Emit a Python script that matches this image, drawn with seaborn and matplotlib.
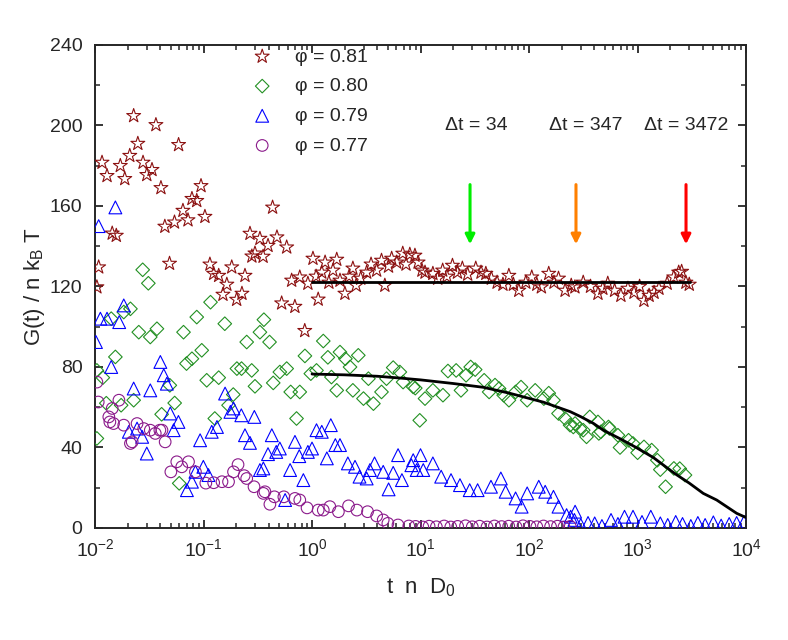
import matplotlib
matplotlib.use("Agg")
import matplotlib.pyplot as plt
from matplotlib.ticker import MultipleLocator
import seaborn as sns

# phi = 0.81 (stars)
x81 = [0.0104, 0.0108, 0.0116, 0.0129, 0.0144, 0.0157, 0.0171, 0.0188, 0.0209, 0.0227,
       0.0248, 0.0277, 0.030, 0.0335, 0.0364, 0.0405, 0.044, 0.0486, 0.054, 0.0589,
       0.0646, 0.0719, 0.0782, 0.0866, 0.0948, 0.103, 0.1145, 0.124, 0.138, 0.151,
       0.164, 0.182, 0.202, 0.226, 0.241, 0.268, 0.279, 0.298, 0.331, 0.354,
       0.393, 0.433, 0.475, 0.525, 0.584, 0.649, 0.695, 0.771, 0.857, 0.916,
       1.02, 1.09, 1.14, 1.23, 1.32, 1.43, 1.56, 1.69, 1.81, 2.01,
       2.2, 2.38, 2.55, 2.81, 3.19, 3.5, 3.94, 4.37, 4.69, 5.07,
       5.42, 6.03, 6.86, 7.35, 7.97, 8.88, 9.5, 10.3, 11.0, 13.0,
       14.4, 16.0, 17.5, 19.7, 21.9, 24.3, 27.2, 32.3, 36.1, 40.0,
       45.0, 50.8, 57.5, 65.2, 71.8, 80.5, 93.4, 106, 118, 130,
       152, 170, 187, 215, 245, 265, 316, 369, 432, 479,
       532, 615, 703, 816, 929, 1045, 1146, 1279, 1421, 1577,
       1876, 2157, 2397, 2550, 2793, 3000]
y81 = [119.7, 129.6, 181.6, 175, 146.4, 145.3, 180, 173.5, 185, 204.8,
       191, 181.6, 175.5, 178, 200.3, 169, 149.8, 131.4, 151.9, 190.4,
       157.7, 153, 163.6, 162.6, 170, 154.7, 131, 126.4, 125.4, 116,
       121, 129.6, 113.5, 116.5, 125.4, 146.3, 135, 136.5, 143.8, 134.9,
       140.3, 159.3, 144.5, 111.7, 139.5, 123, 110, 124.6, 98, 121.5,
       133.9, 125, 113.6, 127, 132, 122, 128, 133.4, 123, 116.5,
       125, 129, 120.5, 124, 127, 131, 128, 132.9, 120.5, 130,
       133.9, 132, 136.4, 131, 135.9, 135.4, 132, 128, 127, 126.4,
       124, 128, 125, 130.4, 127, 129, 126, 129, 127, 126.4,
       124, 122, 121, 125.4, 121, 118, 122, 124.6, 121, 119.7,
       126.4, 122, 124, 118, 120.5, 119.7, 122, 120, 116.5, 119,
       121.5, 118, 115.5, 119, 117, 120, 113, 115.5, 117, 119,
       121.5, 124.6, 127, 127.4, 122, 121]

# phi = 0.80 (diamonds)
x80 = [0.0104, 0.0104, 0.0118, 0.0127, 0.0141, 0.0154, 0.0174, 0.0184, 0.0212, 0.0227,
       0.0253, 0.0275, 0.031, 0.0323, 0.0372, 0.0411, 0.0489, 0.0542, 0.0597, 0.0654,
       0.0697, 0.0782, 0.0866, 0.0963, 0.107, 0.116, 0.127, 0.138, 0.157, 0.17,
       0.188, 0.203, 0.224, 0.25, 0.278, 0.298, 0.331, 0.36, 0.406, 0.439,
       0.505, 0.584, 0.636, 0.72, 0.771, 0.86, 0.975, 1.1, 1.27, 1.4,
       1.51, 1.69, 1.81, 2.03, 2.24, 2.38, 2.67, 2.98, 3.31, 3.68,
       4.37, 4.86, 5.6, 6.45, 6.91, 8.56, 8.95, 9.84, 11.0, 13.0,
       16.1, 17.9, 21.3, 23.6, 26.3, 29.0, 31.9, 38.6, 42.9, 48.6,
       53.0, 58.4, 65.3, 75.2, 84.4, 96.2, 114, 137, 152, 168,
       187, 215, 239, 256, 266, 294, 316, 339, 363, 432,
       440, 460, 540, 552, 660, 690, 827, 909, 1002, 1147,
       1350, 1522, 1623, 1814, 2164, 2450, 2740]
y80 = [44.5, 78.3, 74.7, 62, 104, 85, 61, 107.3, 108.9, 63.5,
       97.3, 128.3, 121.6, 94.9, 99, 56.5, 70.9, 62.1, 22.2, 97.3,
       81.7, 84.1, 104.8, 88.3, 73.4, 112.2, 54.4, 74.7, 101.5, 61,
       66.3, 79.2, 79.2, 92.4, 78.3, 70.4, 97.3, 103.5, 92.4, 72.1,
       77.5, 79.2, 67.6, 54.4, 67.6, 85.5, 76.7, 78.3, 92.9, 84.8,
       75, 68.4, 87.4, 84.1, 80, 68.4, 85.8, 64.3, 74.2, 61.8,
       67.6, 74.2, 79.7, 77.5, 72.5, 70.1, 69.5, 53.5, 64.3, 68.4,
       66, 78, 78.3, 68.4, 75.9, 80, 78.7, 73.4, 67.6, 71,
       69.3, 66, 63.5, 67.6, 70, 63.5, 68.4, 64.3, 67, 63.5,
       56.9, 54.4, 51.1, 50.2, 51.9, 49.4, 48.6, 45.3, 55.2, 52.7,
       47, 47.8, 50.2, 49.4, 46.1, 40, 43.6, 42, 37.4, 40.3,
       38.7, 33.7, 29, 20.5, 29.6, 29.5, 26.3]

# phi = 0.79 (triangles)
x79 = [0.0102, 0.0108, 0.0112, 0.0129, 0.0141, 0.0154, 0.0167, 0.0184, 0.0205, 0.0227,
       0.0244, 0.0272, 0.030, 0.0323, 0.04, 0.043, 0.0459, 0.0494, 0.053, 0.0587,
       0.0703, 0.0782, 0.0842, 0.093, 0.0996, 0.111, 0.119, 0.133, 0.158, 0.177,
       0.189, 0.223, 0.241, 0.268, 0.294, 0.331, 0.356, 0.393, 0.426, 0.468,
       0.505, 0.565, 0.628, 0.696, 0.763, 0.832, 0.916, 1.0, 1.1, 1.23,
       1.37, 1.49, 1.64, 1.81, 2.14, 2.49, 2.74, 3.19, 3.42, 3.77,
       4.53, 5.08, 5.6, 6.21, 6.74, 8.24, 8.56, 9.22, 10.0, 10.6,
       13.0, 15.5, 19.1, 23.1, 28.4, 33.6, 44.6, 55, 60.9, 75.2,
       85.5, 96.2, 123, 141, 168, 187, 222, 242, 262, 266,
       300, 350, 403, 470, 570, 660, 759, 909, 1100, 1326,
       1623, 1900, 2250, 2600, 3100, 3600, 4200, 5000, 5900, 7000,
       8200, 9600]
y79 = [92.4, 150, 104, 104, 80, 159.3, 102.3, 110.6, 47.8, 69.3,
       49.4, 45.3, 37, 68.4, 82.5, 75.9, 71.7, 56.9, 48.6, 52.7,
       18.8, 23, 27.9, 43.6, 30.4, 26.3, 47.8, 50.2, 66.8, 57.7,
       59.4, 56, 46.1, 42.3, 55.2, 28.8, 29.6, 36.7, 46.1, 37.8,
       39.5, 13.9, 28.8, 42.8, 35.7, 23.8, 37.8, 39.5, 48.6, 47.8,
       34.6, 51.1, 41.2, 41.2, 32.1, 30.4, 25.5, 24.6, 28.8, 32.1,
       27.9, 19.2, 27.4, 36.2, 23.8, 31.2, 33.7, 28.8, 36.2, 28.8,
       32.1, 25.5, 23.8, 21.3, 18.8, 18.8, 20.5, 24.6, 18, 14.7,
       10.6, 17.2, 20.5, 18, 15.5, 10.6, 6.4, 5.6, 4, 8.1,
       1.5, 2.5, 2.3, 1, 4, 2, 5.6, 5.6, 3, 5.6,
       2.3, 1.5, 3, 2, 1, 2.5, 1.5, 2.8, 1.2, 2,
       2.5, 3]

# phi = 0.77 (circles)
x77 = [0.0104, 0.0107, 0.0134, 0.0137, 0.0144, 0.0148, 0.0166, 0.0184, 0.0212, 0.022,
       0.0244, 0.0281, 0.0323, 0.0359, 0.0396, 0.0414, 0.0443, 0.050, 0.0567, 0.063,
       0.0727, 0.0842, 0.105, 0.124, 0.148, 0.17, 0.189, 0.208, 0.237, 0.25,
       0.292, 0.356, 0.368, 0.409, 0.45, 0.55, 0.696, 0.771, 0.9, 1.14,
       1.27, 1.46, 1.75, 2.17, 2.59, 3.25, 3.94, 4.53, 5.0, 6.2,
       7.8, 9.0, 10.5, 12.0, 14.0, 16.5, 19.0, 22.0, 26.0, 30.0,
       35.0, 41.0, 48.0, 56.0, 65.0, 76.0, 88.0, 102, 118, 136,
       158, 183, 210, 240]
y77 = [72.5, 62.6, 55.2, 52.7, 59.4, 51.9, 63.5, 51.1, 42, 42.8,
       51.9, 49.4, 48.6, 47, 48.6, 48.6, 42.8, 27.9, 32.9, 30.4,
       32.9, 27.9, 22.3, 22.5, 23, 23, 27.9, 31.5, 26, 24.6,
       20.5, 17.2, 18, 11.8, 15.5, 15.5, 14.7, 13.9, 10, 8.9,
       8.9, 10.6, 8.1, 11, 8.9, 8.1, 6, 4, 2.3, 1.5,
       1.0, 0.8, 0.5, 0.9, 0.6, 1.0, 0.5, 0.8, 1.1, 0.6,
       0.9, 0.5, 1.0, 0.7, 0.9, 0.5, 1.1, 0.8, 0.6, 1.0,
       0.7, 0.9, 0.5, 0.8]

# fits
flat_x = [1.0, 3050]
flat_y = [122, 122]
curve_x = [1.0, 2.0, 4.0, 6.5, 10, 20, 38, 67, 136, 240, 300, 392, 484, 700,
           950, 1400, 2090, 2300, 3000, 4036, 5370, 8200, 10000]
curve_y = [76.5, 76.1, 75.4, 74.5, 73.6, 71.8, 69.9, 66.9, 62.5, 57.8, 55.3, 52, 48.6, 44.2,
           40.3, 35, 28, 26.4, 22.3, 17.2, 13.9, 7.3, 5.2]

# arrows
arrow_x = [28.6, 271, 2800]
arrow_colors = ["#00ee00", "#ff8000", "#ff0000"]
dt_labels = ["\u0394t = 34", "\u0394t = 347", "\u0394t = 3472"]
dt_x = [32.8, 335, 2830]

sns.set_style("ticks")
plt.rcParams["font.family"] = ["Liberation Sans", "DejaVu Sans"]
plt.rcParams["mathtext.default"] = "regular"

fig = plt.figure(figsize=(7.88, 6.4), dpi=100)
ax = fig.add_axes([0.1206, 0.175, 0.8261, 0.7547])

series = [
    (x81, y81, "*", 110, "#8b1010", "\u03c6 = 0.81"),
    (x80, y80, "D", 48, "#229022", "\u03c6 = 0.80"),
    (x79, y79, "^", 85, "#0000ff", "\u03c6 = 0.79"),
    (x77, y77, "o", 70, "#8b1a8b", "\u03c6 = 0.77"),
]
for xs, ys, mk, sz, col, lab in series:
    sns.scatterplot(x=xs, y=ys, marker=mk, s=sz, facecolor="none", edgecolor=col,
                    linewidth=0.8, label=lab, ax=ax, zorder=3)

sns.lineplot(x=flat_x, y=flat_y, color="black", lw=2, estimator=None, ax=ax, zorder=4)
sns.lineplot(x=curve_x, y=curve_y, color="black", lw=2, estimator=None, sort=False,
             ax=ax, zorder=4)

for xa, c in zip(arrow_x, arrow_colors):
    ax.annotate("", xy=(xa, 139.6), xytext=(xa, 172),
                arrowprops=dict(arrowstyle="-|>", color=c, lw=2.2, mutation_scale=14))
for xt, t in zip(dt_x, dt_labels):
    ax.text(xt, 200, t, ha="center", va="center", fontsize=14)

ax.set_xscale("log")
ax.set_xlim(1e-2, 1e4)
ax.set_ylim(0, 240)
ax.yaxis.set_major_locator(MultipleLocator(40))
ax.yaxis.set_minor_locator(MultipleLocator(20))
ax.tick_params(which="both", direction="in", top=True, right=True, labelsize=14)
ax.tick_params(which="major", length=6, width=1.3)
ax.tick_params(which="minor", length=3.5, width=1.1)
ax.tick_params(axis="y", pad=9)
ax.tick_params(axis="x", pad=7)
for sp in ax.spines.values():
    sp.set_linewidth(1.4)

ax.set_xlabel("t  n  D$_0$", fontsize=16, labelpad=12)
ax.set_ylabel("G(t) / n k$_B$ T", fontsize=16, labelpad=2)

ax.legend(loc="upper left", bbox_to_anchor=(0.215, 1.01), frameon=False, fontsize=14,
          handletextpad=0.7, labelspacing=0.62, borderaxespad=0, scatterpoints=1)

fig.savefig("out.png", dpi=100)
